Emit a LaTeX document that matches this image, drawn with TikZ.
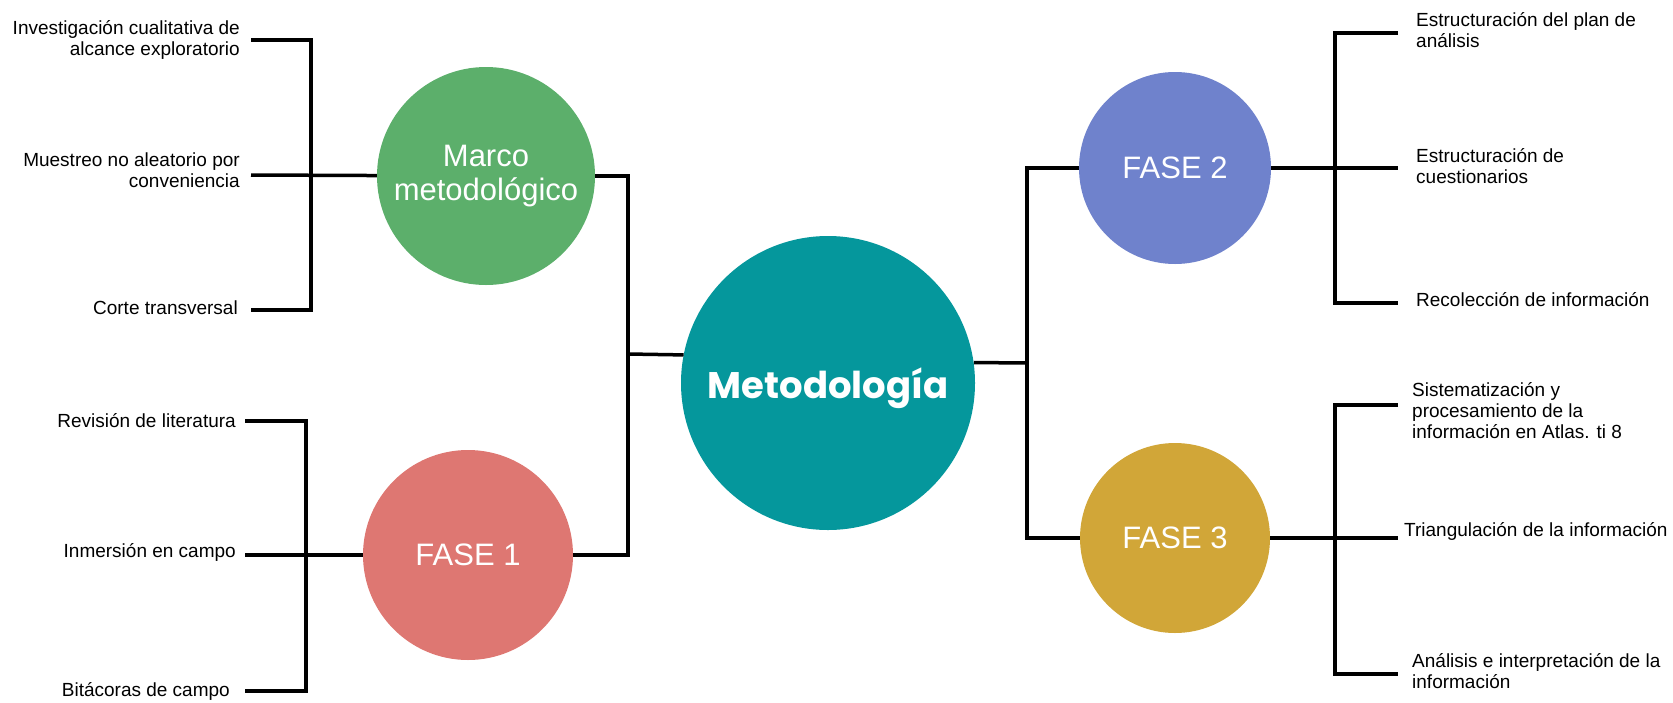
\documentclass[tikz,border=0pt]{standalone}
\usepackage{fontspec}
\setmainfont{Liberation Sans}
\newfontfamily\titlefont{Poppins}
\usetikzlibrary{positioning}

\definecolor{marcogreen}{HTML}{5CAF6B}
\definecolor{faseone}{HTML}{DE7772}
\definecolor{fasetwo}{HTML}{6F82CC}
\definecolor{fasethree}{HTML}{D1A638}
\definecolor{metodteal}{HTML}{05979C}

\tikzset{
    phase/.style={circle, inner sep=0pt, text=white, align=center, font=\fontsize{31}{34}\selectfont},
    item/.style={inner sep=0pt, font=\fontsize{19}{21}\selectfont},
    link/.style={line width=3.5pt},
}

\begin{document}
\begin{tikzpicture}[x=1pt, y=-1pt]
            \useasboundingbox (0,0) rectangle (1673,702);

            % Circles
            \node[circle, fill=metodteal, minimum size=294pt, inner sep=0pt, text=white, font=\titlefont\bfseries\fontsize{37}{40}\selectfont] (metod) at (828,383) {\raisebox{-5pt}[\height][\depth]{Metodología}};
            \node[phase, fill=marcogreen, minimum size=218pt] (marco) at (486,176) {Marco\\metodológico};
            \node[phase, fill=faseone, minimum size=210pt] (fase1) at (468,555) {FASE 1};
            \node[phase, fill=fasetwo, minimum size=192pt] (fase2) at (1175,168) {FASE 2};
            \node[phase, fill=fasethree, minimum size=190pt] (fase3) at (1175,538) {FASE 3};

            % Labels
            \node[item, anchor=east, align=right] (inv) at (240,40) {Investigación cualitativa de\\alcance exploratorio};
            \node[item, anchor=east, align=right] (mue) at (240,170) {Muestreo no aleatorio por\\conveniencia};
            \node[item, anchor=east] (cor) at (238,308) {Corte transversal};
            \node[item, anchor=east] (rev) at (236,421) {Revisión de literatura};
            \node[item, anchor=east] (inm) at (236,552) {Inmersión en campo};
            \node[item, anchor=east] (bit) at (230,691) {Bitácoras de campo};
            \node[item, anchor=west, align=left] (est) at (1416,30) {Estructuración del plan de\\análisis};
            \node[item, anchor=west, align=left] (cue) at (1416,166) {Estructuración de\\cuestionarios};
            \node[item, anchor=west] (rec) at (1416,300) {Recolección de información};
            \node[item, anchor=west, align=left] (sis) at (1412,411) {Sistematización y\\procesamiento de la\\información en Atlas. ti 8};
            \node[item, anchor=west] (tri) at (1404,531) {Triangulación de la información};
            \node[item, anchor=west, align=left] (ana) at (1412,671) {Análisis e interpretación de la\\información};

            % Bus points
            \coordinate (lb) at (628,354);
            \coordinate (rb) at (1027,363);
            \coordinate (mb) at (311,175);
            \coordinate (f1b) at (306,555);
            \coordinate (f2b) at (1335,168);
            \coordinate (f3b) at (1335,538);

            % Tick ends
            \coordinate (m1) at (251,40);
            \coordinate (m2) at (251,175);
            \coordinate (m3) at (251,310);
            \coordinate (p1) at (245,421);
            \coordinate (p2) at (245,555);
            \coordinate (p3) at (245,691);
            \coordinate (q1) at (1398,33);
            \coordinate (q2) at (1398,168);
            \coordinate (q3) at (1398,303);
            \coordinate (r1) at (1398,405);
            \coordinate (r2) at (1398,538);
            \coordinate (r3) at (1398,674);

            % Draw edges
            \draw[link] (marco) -| (lb) |- (fase1);
            \draw[link] (lb) -- (metod.169);
            \draw[link] (fase2) -| (rb) |- (fase3);
            \draw[link] (metod.8) -- (rb);

            \draw[link] (m1) -| (mb) |- (m3);
            \draw[link] (m2) -- (marco);
            \draw[link] (p1) -| (f1b) |- (p3);
            \draw[link] (p2) -- (fase1);
            \draw[link] (q1) -| (f2b) |- (q3);
            \draw[link] (fase2) -- (q2);
            \draw[link] (r1) -| (f3b) |- (r3);
            \draw[link] (fase3) -- (r2);
        \end{tikzpicture}
\end{document}
